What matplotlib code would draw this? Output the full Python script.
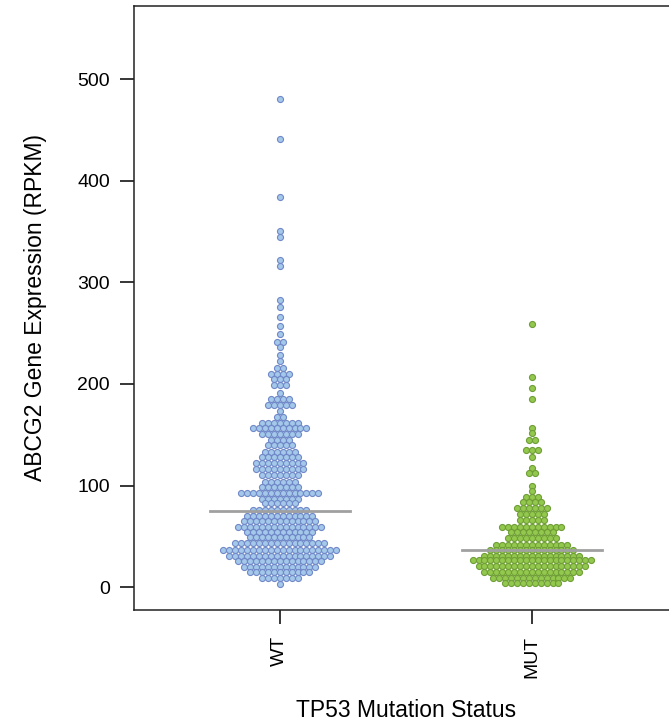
import numpy as np
import matplotlib.pyplot as plt

plt.rcParams['font.family'] = ['Liberation Sans', 'DejaVu Sans']

# Beeswarm rows: expression level of each row and number of samples in it
groups = ["WT", "MUT"]

wt_levels = [481, 441, 384, 351, 345, 322, 316, 283, 276, 266, 257, 249,
             241, 236, 229, 223, 216, 210, 205, 199,
             191, 185.7, 179.8, 173.9, 168,
             162, 157, 151, 145, 139.5,
             133, 128, 122, 116, 110, 104, 99, 93, 87, 82.5, 76,
             70, 65, 59, 54, 49, 43, 37, 31, 25.5, 19.6, 14.7, 8.8, 3]
wt_counts = [1, 1, 1, 1, 1, 1, 1, 1, 1, 1, 1, 1,
             2, 1, 1, 1, 2, 4, 3, 3,
             1, 4, 5, 1, 2,
             7, 10, 7, 4, 5,
             6, 7, 9, 9, 7, 6, 7, 14, 7, 6, 10,
             12, 13, 15, 12, 11, 16, 20, 18, 15, 13, 11, 7, 1]

mut_levels = [259, 207, 196, 185, 157, 152, 145, 135, 128, 117, 112, 100, 95,
              89, 83.5, 77.6, 71.7, 65.8, 59, 54, 48, 42, 37, 31, 26.5,
              20.6, 14.7, 8.8, 4]
mut_counts = [1, 1, 1, 1, 1, 1, 2, 3, 1, 1, 2, 1, 1,
              3, 4, 6, 5, 5, 11, 8, 9, 13, 15, 17, 21,
              19, 17, 14, 10]

medians = [74.7, 36.3]

face_colors = ['#A3C8EA', '#93C84E']
edge_colors = ['#7088C8', '#6E9E35']

fig = plt.figure(figsize=(6.69, 7.21), dpi=100)
ax = fig.add_axes([0.1996, 0.1546, 0.8139, 0.837])

dx = 0.0235
for i, (levels, counts) in enumerate([(wt_levels, wt_counts), (mut_levels, mut_counts)]):
    xs, ys = [], []
    for lev, n in zip(levels, counts):
        offs = (np.arange(n) - (n - 1) / 2) * dx
        xs.extend(i + 1 + offs)
        ys.extend([lev] * n)
    ax.scatter(xs, ys, s=19, c=face_colors[i], edgecolors=edge_colors[i],
               linewidths=0.8, zorder=2)
    ax.plot([i + 1 - 0.277, i + 1 + 0.277], [medians[i], medians[i]],
            color='#A0A0A0', lw=2, zorder=3)

ax.set_xlim(0.42, 2.58)
ax.set_ylim(-22, 572)
ax.set_xticks([1, 2])
ax.set_xticklabels(groups, rotation=90, fontsize=14)
ax.set_yticks([0, 100, 200, 300, 400, 500])
ax.tick_params(axis='y', labelsize=14, length=10, width=1.1, pad=7)
ax.tick_params(axis='x', length=10, width=1.1, pad=9)
ax.spines['right'].set_visible(False)
for s in ['left', 'top', 'bottom']:
    ax.spines[s].set_linewidth(1.1)
    ax.spines[s].set_color('#222222')

ax.set_ylabel("ABCG2 Gene Expression (RPKM)", fontsize=16.5, labelpad=22)
ax.set_xlabel("TP53 Mutation Status", fontsize=16.5, labelpad=15)

fig.savefig("out.png", dpi=100)
